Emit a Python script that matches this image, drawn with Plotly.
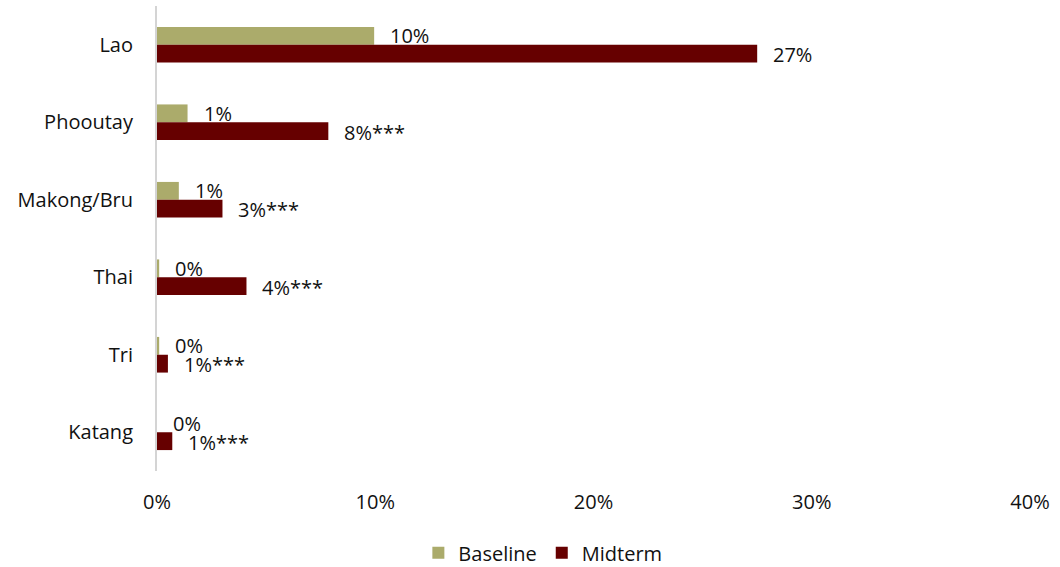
import plotly.graph_objects as go

categories = ["Lao", "Phooutay", "Makong/Bru", "Thai", "Tri", "Katang"]
baseline = [9.95, 1.4, 1.0, 0.1, 0.1, 0.0]
midterm = [27.5, 7.85, 3.0, 4.1, 0.5, 0.7]
baseline_labels = ["10%", "1%", "1%", "0%", "0%", "0%"]
midterm_labels = ["27%", "8%***", "3%***", "4%***", "1%***", "1%***"]
x_ticks = [0, 10, 20, 30, 40]
x_tick_labels = ["0%", "10%", "20%", "30%", "40%"]

FONT = "Open Sans"
FS = 20
C_BASE = "#ABAB6B"
C_MID = "#660000"
TXT = "#111111"

fig = go.Figure()
fig.add_trace(go.Bar(y=categories, x=baseline, orientation="h", name="Baseline",
                     marker=dict(color=C_BASE, line=dict(width=0))))
fig.add_trace(go.Bar(y=categories, x=midterm, orientation="h", name="Midterm",
                     marker=dict(color=C_MID, line=dict(width=0))))

annotations = []
for cat, v, t in zip(categories, baseline, baseline_labels):
    annotations.append(dict(x=v, y=cat, text=t, xref="x", yref="y", showarrow=False,
                            xanchor="left", yanchor="middle", xshift=14, yshift=9,
                            font=dict(family=FONT, size=FS, color=TXT)))
for cat, v, t in zip(categories, midterm, midterm_labels):
    annotations.append(dict(x=v, y=cat, text=t, xref="x", yref="y", showarrow=False,
                            xanchor="left", yanchor="middle", xshift=14, yshift=-10,
                            font=dict(family=FONT, size=FS, color=TXT)))

fig.update_layout(
    width=1060, height=567,
    margin=dict(l=157, r=30, t=6, b=96, autoexpand=False),
    paper_bgcolor="white", plot_bgcolor="white",
    barmode="group", bargap=0.54, bargroupgap=0,
    font=dict(family=FONT, size=FS, color=TXT),
    showlegend=True,
    legend=dict(orientation="h", x=0.442, xanchor="center", y=-0.176, yanchor="middle",
                font=dict(family=FONT, size=FS, color=TXT), traceorder="normal",
                itemwidth=30),
    annotations=annotations,
)
fig.update_xaxes(range=[0, 40], tickvals=x_ticks, ticktext=x_tick_labels, showgrid=False,
                 zeroline=False, showline=False, ticks="", ticklabelstandoff=17,
                 automargin=False, tickfont=dict(family=FONT, size=FS, color=TXT))
fig.update_yaxes(autorange="reversed", showgrid=False, zeroline=False, showline=True,
                 linecolor="#D4D4D4", linewidth=2, ticks="", ticklabelstandoff=18,
                 automargin=False, tickfont=dict(family=FONT, size=FS, color=TXT))

fig.write_html("out.html")
